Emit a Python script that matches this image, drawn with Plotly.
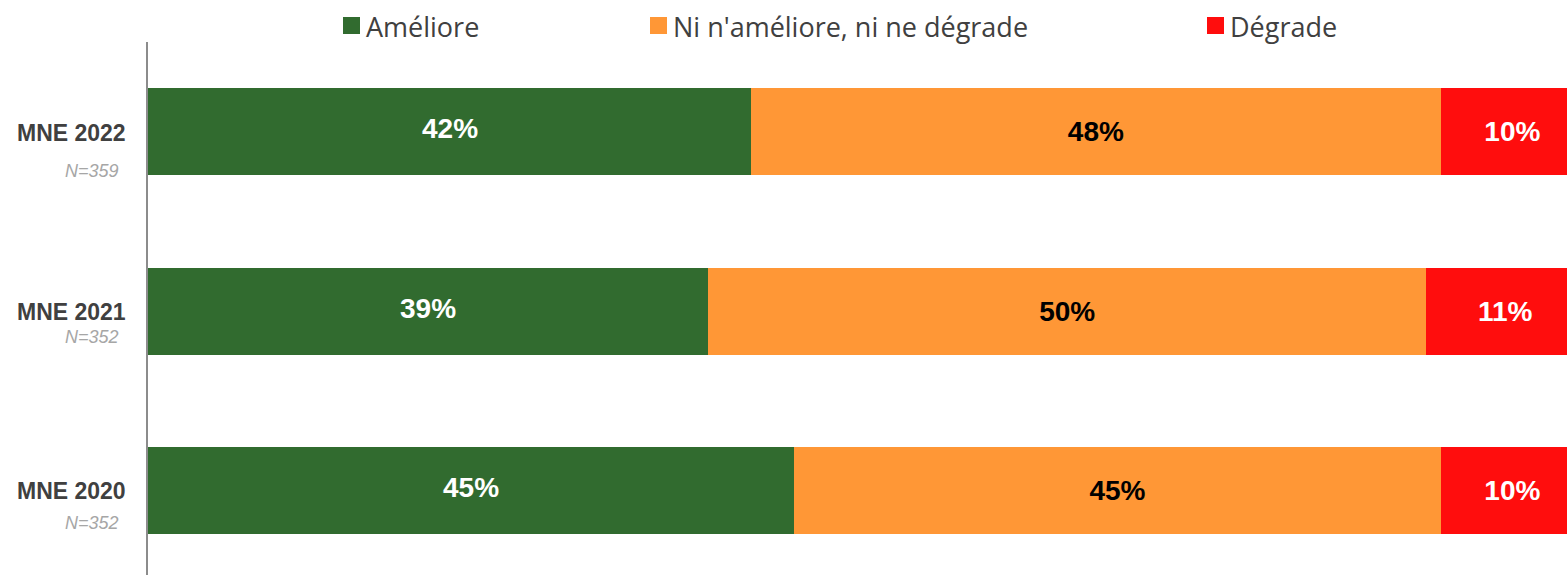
import plotly.graph_objects as go

# Survey results, one row per wave (bottom to top)
categories = ["MNE 2020", "MNE 2021", "MNE 2022"]
sample_sizes = ["N=352", "N=352", "N=359"]
series_names = ["Améliore", "Ni n'améliore, ni ne dégrade", "Dégrade"]
ameliore = [45, 39, 42]
neutre = [45, 50, 48]
degrade = [10, 11, 10]

colors = ["#316b2f", "#ff9736", "#ff0d0d"]
text_colors = ["white", "black", "white"]

W, H = 1567, 575
ML, MT = 148, 42
PW, PH = W - ML, H - MT


def px_x(x):
    return (x - ML) / PW


def px_y(y):
    return (H - y) / PH


label_font = dict(family="Liberation Sans, Arial", size=28, weight="bold")

fig = go.Figure()
ypos = list(range(len(categories)))
for k, (name, vals, col, tcol) in enumerate(zip(series_names, [ameliore, neutre, degrade], colors, text_colors)):
    # first series gets its labels as annotations (sitting slightly higher)
    fig.add_trace(go.Bar(
        y=ypos, x=vals, orientation="h", name=name,
        marker=dict(color=col, line=dict(width=0)),
        text=None if k == 0 else [f"{v}%" for v in vals],
        textposition="inside", insidetextanchor="middle", textangle=0,
        textfont=dict(**label_font, color=tcol),
        showlegend=False, hoverinfo="skip",
    ))

for yi, v in zip(ypos, ameliore):
    fig.add_annotation(x=v / 2, y=yi, text=f"{v}%", showarrow=False, yshift=3,
                       font=dict(**label_font, color=text_colors[0]))

# Row labels with sample size underneath
label_offsets = {0: (491, 523), 1: (312, 337), 2: (133, 171)}
for i, (cat, n) in enumerate(zip(categories, sample_sizes)):
    y_main, y_n = label_offsets[i]
    fig.add_annotation(x=px_x(128), y=px_y(y_main), xref="paper", yref="paper",
                       text=f"<b>{cat}</b>", showarrow=False, xanchor="right", yanchor="middle",
                       font=dict(family="Liberation Sans, Arial", size=23, color="#404040"))
    fig.add_annotation(x=px_x(121), y=px_y(y_n), xref="paper", yref="paper",
                       text=f"<i>{n}</i>", showarrow=False, xanchor="right", yanchor="middle",
                       font=dict(family="Liberation Sans, Arial", size=18, color="#a6a6a6"))

# Legend drawn across the top
legend_x = [343, 650, 1207]
for name, col, lx in zip(series_names, colors, legend_x):
    fig.add_shape(type="rect", xref="paper", yref="paper",
                  x0=px_x(lx), x1=px_x(lx + 17), y0=px_y(34), y1=px_y(17),
                  fillcolor=col, line=dict(width=0))
    fig.add_annotation(x=px_x(lx + 21), y=px_y(26), xref="paper", yref="paper",
                       text=name, showarrow=False, xanchor="left", yanchor="middle",
                       font=dict(family="Open Sans", size=27, color="#404040"))

fig.update_layout(
    width=W, height=H, barmode="stack", bargap=0.515,
    margin=dict(l=ML, r=0, t=MT, b=0),
    plot_bgcolor="white", paper_bgcolor="white",
    uniformtext=dict(mode=False),
)
fig.update_xaxes(range=[0, 98.8], showgrid=False, zeroline=False, showticklabels=False, fixedrange=True)
fig.update_yaxes(range=[-0.47, 2.5], showgrid=False, zeroline=False, showticklabels=False,
                 showline=True, linecolor="#8c8c8c", linewidth=2, fixedrange=True)

fig.write_html("out.html")
